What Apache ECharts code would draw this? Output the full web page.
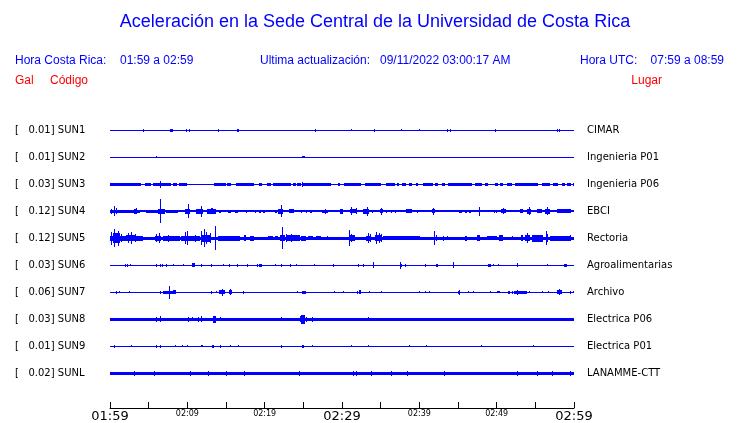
<!DOCTYPE html>
<html>
<head>
<meta charset="utf-8">
<script src="https://cdn.jsdelivr.net/npm/echarts@6/dist/echarts.min.js"></script>
<style>
html,body{margin:0;padding:0;background:#fff;}
#chart{width:740px;height:423px;}
</style>
</head>
<body>
<div id="chart"></div>
<script>
// ---------- DATA ----------
const codes = ['SUN1','SUN2','SUN3','SUN4','SUN5','SUN6','SUN7','SUN8','SUN9','SUNL'];
const scales = ['0.01','0.01','0.03','0.12','0.12','0.03','0.06','0.03','0.01','0.02'];
const places = ['CIMAR','Ingenieria P01','Ingenieria P06','EBCI','Rectoria','Agroalimentarias','Archivo','Electrica P06','Electrica P01','LANAMME-CTT'];
const tickLabels = ['01:59','02:09','02:19','02:29','02:39','02:49','02:59'];
// baseline half-thickness per station (amplitude units)
const baseAmp = [0.5,0.5,0.5,1,1.5,0.5,0.5,1.5,0.5,1.5];
// bursts: [start minute, end minute, half amplitude]
const sun1 = [[4.25,4.25,1.5],[7.70,8.09,1.7],[9.82,9.82,1.5],[10.16,10.16,1.5],[13.96,13.96,1.5],[16.38,16.63,1.7],[26.52,26.52,1.5],[31.18,31.18,1],[34.15,34.15,1.5],[37.65,37.65,1],[39.98,39.98,1],[43.60,43.60,1.5],[43.95,43.95,1.5],[49.82,49.82,1.5],[57.84,57.84,1.5],[58.10,58.10,1.5]];
const sun2 = [[5.93,5.93,1],[24.79,25.18,1.2]];
const sun3 = [[0,3.95,1.5],[4.55,5.33,1.5],[5.55,7.92,1.5],[6.45,6.45,3.5],[8.13,8.69,1.5],[8.87,9.99,1.5],[13.40,15.04,1.5],[15.17,15.69,1.5],[16.25,18.58,1.5],[19.27,19.70,1.5],[20.26,20.86,1.5],[21.08,23.45,1.5],[23.67,24.10,1.5],[24.23,24.75,1.5],[24.83,28.63,1.5],[24.83,24.83,2.5],[29.49,29.71,1.5],[30.27,32.51,1.5],[32.94,35.10,1.5],[35.75,36.83,1.5],[37.09,37.35,1.5],[37.82,38.25,1.5],[38.64,38.99,1.5],[39.63,39.85,1.5],[40.50,41.79,1.5],[42.01,42.35,1.5],[42.87,43.30,1.5],[43.73,46.75,1.5],[47.18,48.05,1.5],[48.48,48.91,1.5],[49.77,50.20,1.5],[50.42,50.85,1.5],[51.28,51.93,1.5],[52.36,55.38,1.5],[55.81,56.89,1.5],[57.32,57.97,1.5],[58.49,58.83,1.5],[59.05,59.61,1.5],[59.91,60,1.5]];
const sun4 = [[0,3.82,1.5],[0.15,0.15,2.5],[0.58,0.58,5],[0.80,0.80,3],[3.10,3.50,2.5],[3.30,3.30,3],[4.60,6.19,1.5],[6.19,7.06,2.5],[6.45,6.45,12],[7.27,8.78,1.5],[9.64,10.38,2.5],[10.08,10.08,7],[11.07,12.02,2.5],[11.71,11.71,5.5],[12.53,13.74,2.5],[13.0,13.3,3],[14.09,14.39,1.5],[15.25,15.69,1.5],[16.12,16.55,1.5],[17.63,17.76,1.5],[18.70,18.92,1.5],[19.27,19.48,1.5],[19.78,20.00,1.5],[21.38,21.64,1.5],[21.73,22.37,2.5],[22.07,22.07,6],[23.15,23.75,2],[24.75,24.88,1.5],[25.39,25.52,1.5],[25.91,26.13,1.5],[27.42,28.20,1.5],[27.85,27.85,2.5],[29.71,30.14,2.5],[31.09,31.87,2],[31.22,31.22,4],[31.78,31.78,3],[32.73,33.51,2.5],[33.25,33.25,4.5],[33.94,33.94,1.5],[34.89,35.32,2],[35.10,35.10,3.5],[35.66,35.66,1.5],[36.40,36.40,1.5],[36.83,36.83,1.5],[38.34,38.99,2],[39.72,39.72,1.5],[41.58,42.01,2],[41.79,41.79,3.5],[45.16,45.46,1.5],[45.89,46.19,1.5],[46.45,46.62,1.5],[47.75,47.75,4.5],[49.64,49.64,1.5],[49.90,49.90,1.5],[50.51,51.20,2],[50.85,50.85,3],[53.01,53.44,2],[53.87,54.39,2.5],[54.18,54.18,4],[55.17,55.81,2],[56.25,56.89,2.5],[56.46,56.46,4],[57.84,59.57,2]];
const sun5 = [[0,4.25,2.5],[0.15,0.15,6.5],[0.58,0.58,9],[1.01,1.01,7.5],[1.45,1.45,4],[0.35,1.3,5],[2.01,3.39,3],[2.31,2.31,5],[2.74,2.74,6],[3.17,3.17,4],[5.76,6.62,2.5],[5.98,5.98,4],[6.32,6.32,5],[6.84,8.99,2.5],[7.5,7.5,3.5],[9.21,10.29,2.5],[9.64,9.64,6],[9.95,9.95,7],[10.29,11.59,2.5],[11.0,11.0,3.5],[11.80,13.10,3.5],[11.80,11.80,7],[12.10,12.10,9],[12.45,12.45,6],[12.88,12.88,5],[13.57,13.57,12],[13.96,16.76,2.5],[17.28,17.63,3],[18.15,18.58,2.5],[20.43,21.08,2],[21.29,21.73,2],[22.29,22.29,11],[21.94,22.59,3],[22.80,24.53,3],[22.80,22.80,4],[23.45,23.45,4],[24.75,25.39,2.5],[25.61,26.26,2],[26.69,27.34,2],[28.11,28.11,2],[30.87,31.65,3],[30.92,30.92,8],[31.22,31.22,4],[33.16,33.81,2.5],[33.38,33.38,5],[33.59,33.59,4],[34.24,35.23,3],[34.45,34.45,6],[34.80,34.80,5],[35.02,35.02,4],[35.32,40.06,2],[41.88,41.88,7],[42.14,42.14,3],[43.09,43.09,2.5],[43.52,43.52,2],[45.89,46.11,2.5],[47.40,47.83,3],[48.69,49.99,2],[50.33,50.77,3],[51.93,52.15,2],[53.10,53.44,3],[53.66,54.30,3],[53.96,53.96,5],[54.52,56.03,3.5],[56.33,56.33,7],[56.33,56.68,4],[56.89,59.48,2.5],[59.48,59.48,3]];
const sun6 = [[1.88,1.88,1.5],[2.22,2.22,1.5],[2.65,2.65,1],[5.89,6.06,1.5],[6.41,6.41,1.5],[6.75,6.75,1.5],[7.18,7.18,1.5],[8.13,8.13,1],[9.43,9.43,1],[10.59,11.02,1.8],[11.80,11.80,1.5],[13.10,13.10,1.5],[14.61,14.61,1],[15.34,15.34,1.5],[16.46,16.46,1.5],[17.76,17.76,1.5],[19.01,19.01,1.5],[19.22,19.65,1.5],[21.29,21.29,1],[22.16,22.16,1.5],[23.32,23.32,1.5],[24.10,24.10,1],[26.39,26.39,1],[28.89,28.89,1.5],[32.08,32.08,1.5],[32.73,32.73,1.5],[34.07,34.07,3],[37.56,37.56,3.5],[37.56,37.75,1.5],[38.12,38.12,1.5],[40.71,40.71,1.5],[42.14,42.44,1.5],[44.38,44.38,3],[48.91,49.21,1.5],[49.56,49.56,1],[50.12,50.12,1],[52.58,52.58,2],[56.55,56.55,1],[58.75,59.05,1.5]];
const sun7 = [[0.80,0.80,1.5],[1.10,1.10,1],[2.44,2.44,1],[6.41,6.62,1.5],[6.84,8.57,1.5],[7.62,7.62,6.5],[8.13,8.57,2],[13.10,13.10,1.5],[13.74,13.74,1],[14.09,14.82,2],[14.48,14.48,3.5],[15.34,15.77,2],[15.56,15.56,3],[17.20,17.20,1.5],[24.19,24.19,1],[24.83,25.39,1.5],[28.97,28.97,1],[30.14,30.14,1],[31.99,31.99,1.5],[32.17,32.51,2],[33.51,33.51,1],[35.02,35.02,1],[39.98,39.98,1],[40.71,40.71,1],[41.23,41.23,1],[45.0,45.3,1.5],[45.16,45.16,2.5],[46.23,46.23,1],[46.97,46.97,1],[49.13,49.13,1],[49.99,50.42,1],[51.41,51.71,1.5],[52.02,52.02,1.5],[52.28,53.87,1.5],[52.58,52.58,2.5],[54.17,54.17,1],[55.90,55.90,1],[56.59,56.59,1],[57.76,58.40,2],[58.06,58.06,3],[59.48,59.48,1.5],[59.83,59.83,1]];
const sun8 = [[5.89,5.89,2.5],[6.49,6.49,3],[10.08,10.08,2.5],[10.59,10.59,2],[11.37,11.37,2.5],[11.80,11.80,3],[13.31,13.74,3.3],[14.17,14.17,2],[22.16,22.16,2],[24.53,24.96,3],[24.75,25.18,4.5],[25.39,25.39,2.5],[26.13,26.13,2.5],[33.38,33.38,2]];
const sun9 = [[0.58,0.58,1.5],[2.74,2.74,1],[5.89,5.89,1.5],[6.41,6.41,1.5],[8.44,8.44,1],[9.30,9.30,1],[9.99,9.99,1],[11.72,11.72,1],[11.89,11.89,1],[13.20,13.50,1.5],[14.17,14.17,1.5],[15.56,15.56,1],[16.55,16.55,1],[22.16,22.16,1.5],[24.83,25.05,1.5],[26.13,26.13,1],[31.22,31.22,1],[33.38,33.38,1],[38.64,38.64,1],[40.80,40.80,1],[47.92,47.92,1],[54.65,54.65,1]];
const sunL = [[3.04,3.04,2.5],[5.67,5.67,2.3],[10.38,10.38,2.3],[12.67,12.67,2.3],[15.04,15.04,2.5],[17.32,17.32,2.3],[24.40,24.40,2.3],[31.43,31.43,2.3],[31.87,31.87,2.3],[33.81,33.81,2.3],[36.40,36.40,2.3],[38.43,38.43,2.3],[43.22,43.22,2.3],[52.58,52.58,2.3],[55.17,55.17,2.3],[57.20,57.20,2.3],[59.48,59.48,2.3]];
const bursts = [sun1,sun2,sun3,sun4,sun5,sun6,sun7,sun8,sun9,sunL];

// ---------- BUILD ----------
const AMP_PER_ROW = 27; // amplitude units per row spacing
const BLUE = '#0000ff';
const rows = [];
bursts.forEach((list, r) => {
  rows.push([0, 60, baseAmp[r], r]);
  list.forEach(b => rows.push([b[0], b[1], b[2], r]));
});

function renderItem(params, api) {
  const r = api.value(3);
  const p0 = api.coord([api.value(0), r]);
  const p1 = api.coord([api.value(1), r]);
  const rowPx = api.size([0, 1])[1];
  const h = Math.max(1, Math.round(2 * api.value(2) * rowPx / AMP_PER_ROW));
  const x0 = Math.round(p0[0]);
  const w = Math.max(1, Math.round(p1[0]) - x0);
  const cy = Math.round(p0[1]);
  return {
    type: 'rect',
    shape: { x: x0, y: cy - Math.floor(h / 2), width: w, height: h },
    style: { fill: BLUE }
  };
}

const chart = echarts.init(document.getElementById('chart'), null, { renderer: 'canvas' });
const labelFont = 'DejaVu Sans';
const headFont = 'Liberation Sans, Arial, sans-serif';
chart.setOption({
  animation: false,
  backgroundColor: '#ffffff',
  grid: { left: 110, right: 166, top: 116.5, bottom: 36.5, containLabel: false, outerBoundsMode: 'none' },
  xAxis: {
    type: 'value', min: 0, max: 60, interval: 5, offset: 21.5,
    axisLine: { show: true, lineStyle: { color: '#000', width: 1 } },
    axisTick: { show: true, inside: true, length: 6, lineStyle: { color: '#000' } },
    splitLine: { show: false },
    axisLabel: {
      showMinLabel: true, showMaxLabel: true, margin: 2,
      formatter: v => {
        if (v % 10 !== 0) return '';
        const t = tickLabels[v / 10];
        return (v % 30 === 0) ? '{big|' + t + '}' : '{small|' + t + '}';
      },
      rich: {
        big: { fontFamily: labelFont, fontSize: 13, color: '#000' },
        small: { fontFamily: labelFont, fontSize: 8, color: '#000' }
      }
    }
  },
  yAxis: [
    {
      type: 'category', data: codes, inverse: true, position: 'left',
      axisLine: { show: false }, axisTick: { show: false }, splitLine: { show: false },
      axisLabel: {
        align: 'left', margin: 95, fontFamily: labelFont, fontSize: 10, color: '#000',
        formatter: (v, i) => '[   ' + scales[i] + '] ' + codes[i]
      }
    },
    {
      type: 'category', data: places, inverse: true, position: 'right',
      axisLine: { show: false }, axisTick: { show: false }, splitLine: { show: false },
      axisLabel: { align: 'left', margin: 13, fontFamily: labelFont, fontSize: 10, color: '#000' }
    }
  ],
  series: [{
    type: 'custom', renderItem: renderItem, xAxisIndex: 0, yAxisIndex: 0,
    encode: { x: [0, 1], y: 3 }, data: rows, clip: true, silent: true
  }],
  graphic: [
    { type: 'text', style: { text: 'Aceleración en la Sede Central de la Universidad de Costa Rica', x: 375, y: 22, align: 'center', verticalAlign: 'middle', font: '18px ' + headFont, fill: BLUE } },
    { type: 'text', style: { text: 'Hora Costa Rica:', x: 15, y: 61, verticalAlign: 'middle', font: '12px ' + headFont, fill: BLUE } },
    { type: 'text', style: { text: '01:59 a 02:59', x: 120, y: 61, verticalAlign: 'middle', font: '12px ' + headFont, fill: BLUE } },
    { type: 'text', style: { text: 'Ultima actualización:', x: 260, y: 61, verticalAlign: 'middle', font: '12px ' + headFont, fill: BLUE } },
    { type: 'text', style: { text: '09/11/2022 03:00:17 AM', x: 380, y: 61, verticalAlign: 'middle', font: '12px ' + headFont, fill: BLUE } },
    { type: 'text', style: { text: 'Hora UTC:', x: 580, y: 61, verticalAlign: 'middle', font: '12px ' + headFont, fill: BLUE } },
    { type: 'text', style: { text: '07:59 a 08:59', x: 724, y: 61, align: 'right', verticalAlign: 'middle', font: '12px ' + headFont, fill: BLUE } },
    { type: 'text', style: { text: 'Gal', x: 15, y: 81, verticalAlign: 'middle', font: '12px ' + headFont, fill: '#ff0000' } },
    { type: 'text', style: { text: 'Código', x: 50, y: 81, verticalAlign: 'middle', font: '12px ' + headFont, fill: '#ff0000' } },
    { type: 'text', style: { text: 'Lugar', x: 662, y: 81, align: 'right', verticalAlign: 'middle', font: '12px ' + headFont, fill: '#ff0000' } }
  ]
});
</script>
</body>
</html>
